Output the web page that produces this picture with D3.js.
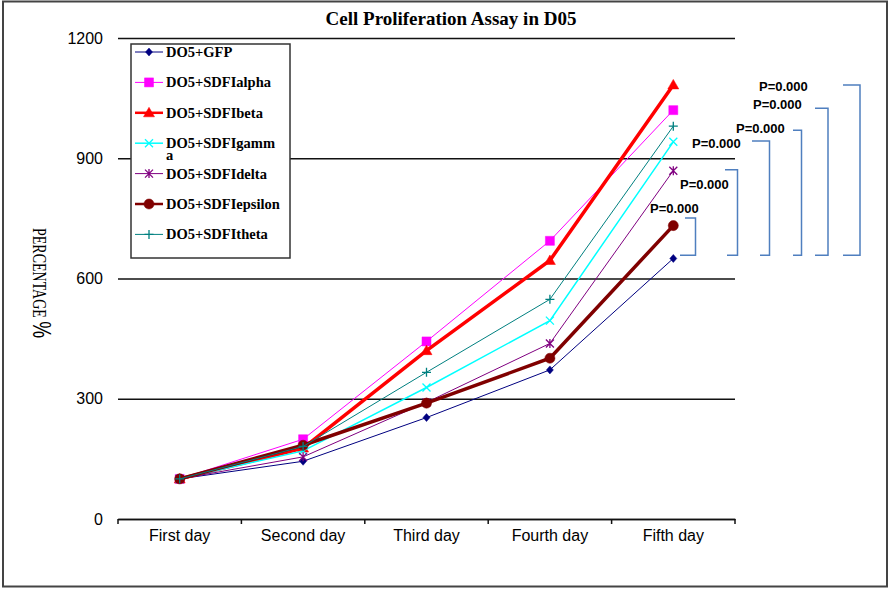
<!DOCTYPE html>
<html lang="en">
<head>
<meta charset="utf-8">
<title>Cell Proliferation Assay in D05</title>
<script src="https://cdn.jsdelivr.net/npm/d3@7"></script>
<style>
  body { margin: 0; background: #fff; }
  .axis text { font-family: "Liberation Sans", Arial, sans-serif; font-size: 16px; fill: #000; }
  .grid line { stroke: #111; stroke-width: 1.4; }
  .legend text { font-family: "Liberation Serif", "Times New Roman", serif; font-weight: bold; font-size: 14.5px; fill: #000; }
  .plabel { font-family: "Liberation Sans", Arial, sans-serif; font-weight: bold; font-size: 13px; fill: #000; }
</style>
</head>
<body>
<script>
// categories and series (percentages)
var days = ["First day", "Second day", "Third day", "Fourth day", "Fifth day"];
var gfp     = [100, 144, 253, 372, 650];
var alpha   = [100, 199, 443, 694, 1020];
var beta    = [100, 177, 420, 645, 1083];
var gamma   = [100, 170, 328, 495, 941];
var delta   = [100, 155, 291, 438, 869];
var epsilon = [100, 184, 289, 401, 732];
var theta   = [100, 181, 366, 548, 980];
var yTicks  = [0, 300, 600, 900, 1200];

// p-value brackets (values on the y scale)
var pLabels  = ["P=0.000", "P=0.000", "P=0.000", "P=0.000", "P=0.000", "P=0.000"];
var pTops    = [751, 871, 943, 970, 1025, 1083];
var pBottom  = 658;

var series = [
  { name: "DO5+GFP",          values: gfp,     color: "#000080", width: 1,   marker: "diamond" },
  { name: "DO5+SDFIalpha",    values: alpha,   color: "#ff00ff", width: 1,   marker: "square" },
  { name: "DO5+SDFIbeta",     values: beta,    color: "#ff0000", width: 3.5, marker: "triangle" },
  { name: "DO5+SDFIgamma",    values: gamma,   color: "#00ffff", width: 1.5, marker: "cross" },
  { name: "DO5+SDFIdelta",    values: delta,   color: "#800080", width: 1,   marker: "star" },
  { name: "DO5+SDFIepsilon",  values: epsilon, color: "#800000", width: 3.5, marker: "circle" },
  { name: "DO5+SDFItheta",    values: theta,   color: "#008080", width: 1,   marker: "plus" }
];

var w = 892, h = 589;
var plotLeft = 118, plotRight = 735, plotTop = 38, plotBottom = 519;

var svg = d3.select("body").append("svg")
  .attr("width", w)
  .attr("height", h);

// outer frame
svg.append("rect")
  .attr("x", 3).attr("y", 1.5)
  .attr("width", 884).attr("height", 585)
  .attr("fill", "none")
  .attr("stroke", "#444")
  .attr("stroke-width", 2);

var x = d3.scaleBand().domain(days).range([plotLeft, plotRight]);
var y = d3.scaleLinear().domain([0, 1200]).range([plotBottom, plotTop]);

function cx(i) { return x(days[i]) + x.bandwidth() / 2; }

// y grid + labels
var yAxis = svg.append("g")
  .attr("class", "axis grid")
  .attr("transform", "translate(" + plotLeft + ",0)")
  .call(d3.axisLeft(y).tickValues(yTicks).tickSize(-(plotRight - plotLeft)).tickPadding(15).tickFormat(d3.format("d")));
yAxis.select(".domain").remove();

// x axis: line, boundary ticks, centred labels
var xAxis = svg.append("g")
  .attr("class", "axis")
  .attr("transform", "translate(0," + plotBottom + ")")
  .call(d3.axisBottom(x).tickSize(0).tickPadding(11));
xAxis.select(".domain").attr("stroke", "#111").attr("stroke-width", 1.5);
xAxis.selectAll(".bound")
  .data(days.map(function (d) { return x(d); }).concat([plotRight]))
  .enter().append("line")
  .attr("x1", function (d) { return d; })
  .attr("x2", function (d) { return d; })
  .attr("y1", 0).attr("y2", 5)
  .attr("stroke", "#111").attr("stroke-width", 1.5);

// marker shapes
function markerPath(type) {
  switch (type) {
    case "diamond":  return "M0,-4L3.5,0L0,4L-3.5,0Z";
    case "square":   return "M-4.5,-4.5H4.5V4.5H-4.5Z";
    case "triangle": return "M0,-5.5L5.5,4L-5.5,4Z";
    case "circle":   return d3.symbol(d3.symbolCircle, 80)();
    case "cross":    return "M-4,-4L4,4M-4,4L4,-4";
    case "star":     return "M-4,-4L4,4M-4,4L4,-4M0,-4.5V4.5";
    case "plus":     return "M-4.5,0H4.5M0,-4.5V4.5";
  }
}
function isOpen(type) { return type === "cross" || type === "star" || type === "plus"; }

var line = d3.line()
  .x(function (d, i) { return cx(i); })
  .y(function (d) { return y(d); });

var g = svg.selectAll(".series")
  .data(series)
  .enter().append("g")
  .attr("class", "series");

g.append("path")
  .attr("d", function (s) { return line(s.values); })
  .attr("fill", "none")
  .attr("stroke", function (s) { return s.color; })
  .attr("stroke-width", function (s) { return s.width; });

g.each(function (s) {
  d3.select(this).selectAll(".mk")
    .data(s.values)
    .enter().append("path")
    .attr("class", "mk")
    .attr("transform", function (d, i) { return "translate(" + cx(i) + "," + y(d) + ")"; })
    .attr("d", markerPath(s.marker))
    .attr("fill", isOpen(s.marker) ? "none" : s.color)
    .attr("stroke", s.color)
    .attr("stroke-width", isOpen(s.marker) ? 1.3 : 0.5);
});

// legend
var legend = svg.append("g").attr("class", "legend");
legend.append("rect")
  .attr("x", 131).attr("y", 44)
  .attr("width", 159).attr("height", 214)
  .attr("fill", "#fff")
  .attr("stroke", "#333")
  .attr("stroke-width", 1.5);

var item = legend.selectAll(".item")
  .data(series)
  .enter().append("g")
  .attr("class", "item")
  .attr("transform", function (d, i) { return "translate(0," + (52 + i * 30.4) + ")"; });

item.append("line")
  .attr("x1", 135).attr("x2", 163)
  .attr("stroke", function (s) { return s.color; })
  .attr("stroke-width", function (s) { return Math.min(s.width, 2.5); });
item.append("path")
  .attr("transform", "translate(149,0)")
  .attr("d", function (s) { return markerPath(s.marker); })
  .attr("fill", function (s) { return isOpen(s.marker) ? "none" : s.color; })
  .attr("stroke", function (s) { return s.color; })
  .attr("stroke-width", function (s) { return isOpen(s.marker) ? 1.3 : 0.5; });
item.append("text")
  .attr("x", 166)
  .attr("y", 5)
  .each(function (s) {
    var t = d3.select(this);
    // the gamma name wraps inside the box, as in the original
    if (s.name.indexOf("gamma") > 0) {
      t.append("tspan").text(s.name.slice(0, -1));
      t.append("tspan").attr("x", 166).attr("dy", 11.5).text(s.name.slice(-1));
    } else {
      t.text(s.name);
    }
  });

// p-value brackets
var bracketX  = [695.5, 737.5, 769.5, 801.5, 828, 860];
var armTop    = [685, 725, 752, 793, 815, 843];
var armBottom = [680, 727, 760, 793, 815, 843];
var labelPos  = [[650, 208], [680, 184], [692, 143], [736, 128], [753, 104], [759, 86]];

var br = svg.append("g");
br.selectAll("path")
  .data(pTops)
  .enter().append("path")
  .attr("d", function (d, i) {
    return "M" + armTop[i] + "," + y(d) + "H" + bracketX[i] +
           "V" + y(pBottom) + "H" + armBottom[i];
  })
  .attr("fill", "none")
  .attr("stroke", "#4f7fbf")
  .attr("stroke-width", 1.5);
br.selectAll("text")
  .data(pLabels)
  .enter().append("text")
  .attr("class", "plabel")
  .attr("x", function (d, i) { return labelPos[i][0]; })
  .attr("y", function (d, i) { return labelPos[i][1] + 4.5; })
  .text(function (d) { return d; });

// title
svg.append("text")
  .attr("x", 451).attr("y", 25)
  .attr("text-anchor", "middle")
  .style("font-family", "'Liberation Serif', 'Times New Roman', serif")
  .style("font-weight", "bold")
  .style("font-size", "19px")
  .text("Cell Proliferation Assay in D05");

// y axis title, read top to bottom
var yt = svg.append("text")
  .attr("transform", "translate(33,228) rotate(90) scale(1,1.35)")
  .style("font-family", "'Liberation Serif', 'Times New Roman', serif")
  .style("font-size", "14px");
yt.append("tspan").text("PERCENTAGE ");
yt.append("tspan").style("font-family", "'Liberation Sans', Arial, sans-serif").style("font-size", "19px").text("%");
</script>
</body>
</html>
